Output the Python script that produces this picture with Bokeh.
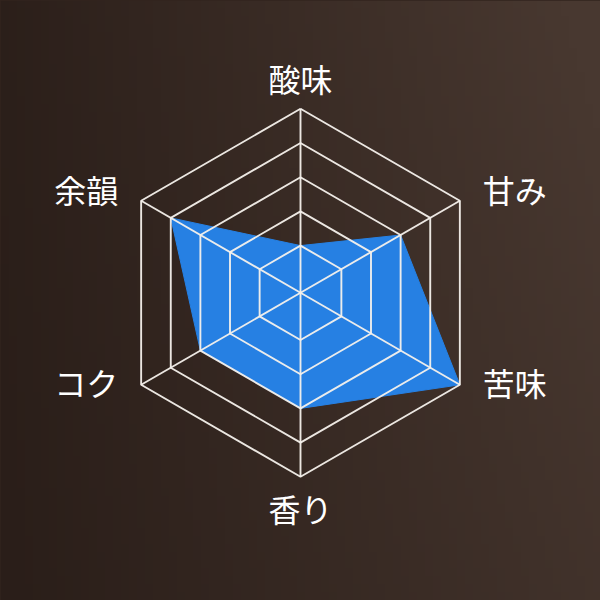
import numpy as np
from bokeh.plotting import figure
from bokeh.models import ColumnDataSource, Range1d
from bokeh.core.properties import value
from bokeh.embed import file_html
from bokeh.resources import INLINE

# ---- data ----
categories = ["酸味", "甘み", "苦味", "香り", "コク", "余韻"]
scores = [1, 3, 5, 3, 3, 4]
levels = [1, 2, 3, 4, 5]

# ---- geometry / style ----
R = 184.0
VMIN, VMAX = -0.38, 5.0
FONT = value("Noto Sans CJK JP")
FILL = "#2680e3"
LINE = "#f5f1ec"

n = len(categories)
ang = np.deg2rad(90 - 360.0 / n * np.arange(n))


def rad(v):
    return R * (np.asarray(v, dtype=float) - VMIN) / (VMAX - VMIN)


W = H = 600
x0, x1 = -300.0, 300.0
y0, y1 = -307.7, 292.3
p = figure(width=W, height=H, x_range=Range1d(x0, x1), y_range=Range1d(y0, y1),
           toolbar_location=None, output_backend="svg", min_border=0,
           outline_line_color=None, background_fill_color="#33251f",
           border_fill_color="#33251f")
p.axis.visible = False
p.grid.visible = False

# background gradient
nx = ny = 75
xf = np.linspace(0, 1, nx)[None, :]
yf = np.linspace(0, 1, ny)[:, None]
t = np.clip(xf * (0.78 + 0.22 * yf) + 0.06 * yf, 0, 1)
dark = np.array([42, 30, 25])
light = np.array([72, 56, 48])
rgb = (dark[None, None, :] + (light - dark)[None, None, :] * t[..., None]).astype(np.uint32)
img = np.empty((ny, nx), dtype=np.uint32)
view = img.view(dtype=np.uint8).reshape((ny, nx, 4))
view[..., 0] = rgb[..., 0]
view[..., 1] = rgb[..., 1]
view[..., 2] = rgb[..., 2]
view[..., 3] = 255
p.image_rgba(image=[img], x=x0, y=y0, dw=x1 - x0, dh=y1 - y0)

# data polygon
r = rad(scores)
p.patch(list(r * np.cos(ang)), list(r * np.sin(ang)), fill_color=FILL, fill_alpha=1.0,
        line_color=FILL, line_width=1)

# grid hexagons
gx, gy = [], []
for lv in levels:
    rr = float(rad(lv))
    gx.append(list(rr * np.cos(np.append(ang, ang[0]))))
    gy.append(list(rr * np.sin(np.append(ang, ang[0]))))
# spokes
for a in ang:
    gx.append([0.0, R * np.cos(a)])
    gy.append([0.0, R * np.sin(a)])
p.multi_line(gx, gy, line_color=LINE, line_width=1.9, line_alpha=0.95)

# labels
groups = {"center": ([], [], []), "left": ([], [], []), "right": ([], [], [])}
for name, a in zip(categories, ang):
    c, s = np.cos(a), np.sin(a)
    if abs(c) < 0.1:
        key, lx, ly = "center", 0.0, np.sign(s) * (R + 31)
    else:
        key = "left" if c > 0 else "right"
        lx = R * c + 23 * np.sign(c)
        ly = (R + 9) * s + 7
    groups[key][0].append(lx)
    groups[key][1].append(ly)
    groups[key][2].append(name)

for align, (lx, ly, tx) in groups.items():
    if not tx:
        continue
    src = ColumnDataSource(dict(x=lx, y=ly, t=tx))
    p.text(x="x", y="y", text="t", source=src, text_font=FONT, text_font_size="32px",
           text_color="white", text_align=align, text_baseline="middle")

html = file_html(p, INLINE)
html = html.replace("<head>", "<head><style>html,body{margin:0;padding:0;overflow:hidden;background:#33251f;}</style>", 1)
open("out.html", "w").write(html)
